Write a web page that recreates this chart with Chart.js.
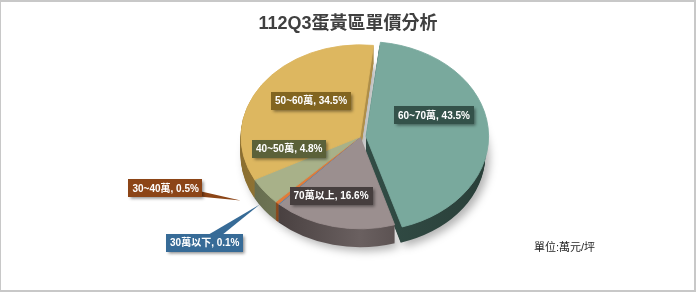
<!DOCTYPE html>
<html><head><meta charset="utf-8">
<script src="https://cdn.jsdelivr.net/npm/chart.js@4/dist/chart.umd.min.js"></script>
<style>html,body{margin:0;padding:0;background:#fff;}#wrap{width:696px;height:292px;position:relative;}</style>
</head><body><div id="wrap"><canvas id="c"></canvas></div>
<script>
const categories = ['60~70萬','70萬以上','30萬以下','30~40萬','40~50萬','50~60萬'];
const shares = [43.5, 16.6, 0.1, 0.5, 4.8, 34.5];
const chartTitle = '112Q3蛋黃區單價分析';
const unitNote = '單位:萬元/坪';

const topColors = ['#79a99d','#9b8f8f','#4d83b5','#e07c3a','#a8b189','#ddb760'];
const sideDark  = ['#2a403a','#3a3232','#2a4a66','#7e3f15','#646a4c','#8a6e30'];
const sideLight = ['#324d46','#6a6060','#3a6488','#a85a26','#868d6a','#b0904a'];
const labelColors = ['#34524a','#463e3e','#376b97','#8c4517','#5b6139','#826520'];
const explode = [24,0,0,0,0,0];
const labelLayout = [
  {r:0.615, a:-16.6, dx:0, dy:0},
  {r:0.686, a:7.8, dx:0, dy:0},
  {r:1.119, a:5.8, dx:-55, dy:38, callout:true},
  {r:1.218, a:11.3, dx:-75, dy:-12, callout:true},
  {r:0.608, a:24.2, dx:0, dy:0},
  {r:0.568, a:9.2, dx:0, dy:0}
];
const SQUASH = 0.773, DEPTH = 18, SHIFT_X = 12;
const FONT = '"Liberation Sans","Noto Sans CJK TC",sans-serif';

function geom(chart){
  const a0 = chart.getDatasetMeta(0).data[0];
  return {cx:a0.x, cy:a0.y, tx:a0.x+SHIFT_X, ty:a0.y, R:a0.outerRadius};
}
function squash(ctx,g){ ctx.translate(g.tx,g.ty); ctx.scale(1,SQUASH); ctx.translate(-g.cx,-g.cy); }

function anchor(arc,i,g){
  const L = labelLayout[i];
  const midO = (arc.startAngle+arc.endAngle)/2;
  const mid = midO + L.a*Math.PI/180;
  const off = (arc.options.offset||0)/4;
  const r = L.r*arc.outerRadius;
  const ux = Math.cos(mid)*r + Math.cos(midO)*off;
  const uy = Math.sin(mid)*r + Math.sin(midO)*off;
  return {x:g.tx+ux, y:g.ty+uy*SQUASH};
}

const pie3d = {
  id:'pie3d',
  beforeDraw(chart){
    const ctx = chart.ctx;
    ctx.save(); ctx.fillStyle='#fff'; ctx.fillRect(0,0,chart.width,chart.height); ctx.restore();
  },
  beforeDatasetsDraw(chart){
    const ctx = chart.ctx, g = geom(chart), meta = chart.getDatasetMeta(0);
    const grads = meta.data.map((arc,i)=>{
      const gr = ctx.createLinearGradient(g.cx-g.R, 0, g.cx+g.R, 0);
      gr.addColorStop(0, sideDark[i]);
      gr.addColorStop(0.5, sideLight[i]);
      gr.addColorStop(1, sideDark[i]);
      return gr;
    });
    for (let d = DEPTH; d >= 1; d--) {
      meta.data.forEach((arc,i)=>{
        ctx.save();
        ctx.translate(0,d);
        squash(ctx,g);
        const off = (arc.options.offset||0)/4;
        const mid = (arc.startAngle+arc.endAngle)/2;
        const x = arc.x + Math.cos(mid)*off, y = arc.y + Math.sin(mid)*off;
        ctx.beginPath(); ctx.moveTo(x,y);
        ctx.arc(x,y,arc.outerRadius+0.5,arc.startAngle,arc.endAngle);
        ctx.closePath();
        ctx.fillStyle = grads[i];
        if (d===DEPTH){ ctx.shadowColor='rgba(0,0,0,0.3)'; ctx.shadowBlur=8; ctx.shadowOffsetX=4; ctx.shadowOffsetY=4; }
        ctx.fill();
        ctx.restore();
      });
    }
    ctx.save(); squash(ctx,g);
  },
  afterDatasetsDraw(chart){
    const ctx = chart.ctx; ctx.restore();
    const g = geom(chart), meta = chart.getDatasetMeta(0);
    ctx.save();
    ctx.font = 'bold 10px '+FONT;
    ctx.textAlign='center'; ctx.textBaseline='middle';
    meta.data.forEach((arc,i)=>{
      const L = labelLayout[i];
      const p = anchor(arc,i,g);
      const bx = p.x + L.dx, by = p.y + L.dy;
      const text = categories[i] + ', ' + shares[i].toFixed(1) + '%';
      const w = ctx.measureText(text).width + 8, h = 18;
      ctx.fillStyle = labelColors[i];
      if (L.callout){
        const ang = Math.atan2(p.y-by, p.x-bx), hw = 5;
        ctx.beginPath();
        ctx.moveTo(bx - Math.sin(ang)*hw, by + Math.cos(ang)*hw);
        ctx.lineTo(p.x,p.y);
        ctx.lineTo(bx + Math.sin(ang)*hw, by - Math.cos(ang)*hw);
        ctx.closePath(); ctx.fill();
      }
      ctx.save();
      ctx.shadowColor='rgba(0,0,0,0.45)'; ctx.shadowBlur=3; ctx.shadowOffsetX=1.5; ctx.shadowOffsetY=1.5;
      ctx.fillRect(Math.round(bx-w/2), Math.round(by-h/2), Math.round(w), h);
      ctx.restore();
      ctx.fillStyle='#ffffff';
      ctx.fillText(text, bx, by+0.5);
    });
    ctx.font = '11px '+FONT; ctx.fillStyle='#262626'; ctx.textAlign='left';
    ctx.fillText(unitNote, 534, 248);
    ctx.restore();
  },
  afterDraw(chart){
    const ctx = chart.ctx;
    ctx.save(); ctx.fillStyle='#c8c8c8';
    ctx.fillRect(0,0,chart.width,2);
    ctx.fillRect(0,chart.height-2,chart.width,2);
    ctx.fillRect(chart.width-2,0,2,chart.height);
    ctx.fillRect(0,0,1,chart.height);
    ctx.restore();
  }
};

new Chart(document.getElementById('c'), {
  type:'pie',
  data:{ labels:categories, datasets:[{ data:shares, backgroundColor:topColors, borderColor:topColors, borderWidth:1, offset:explode, radius:119, clip:false }] },
  options:{
    responsive:true, maintainAspectRatio:false, animation:false, events:[], rotation:6.5,
    layout:{ padding:{left:0,right:0,top:0,bottom:53} },
    plugins:{
      legend:{display:false}, tooltip:{enabled:false},
      title:{ display:true, text:chartTitle, color:'#404040', font:{family:FONT, size:18, weight:'bold'}, padding:{top:13,bottom:0} }
    }
  },
  plugins:[pie3d]
});
</script></body></html>
